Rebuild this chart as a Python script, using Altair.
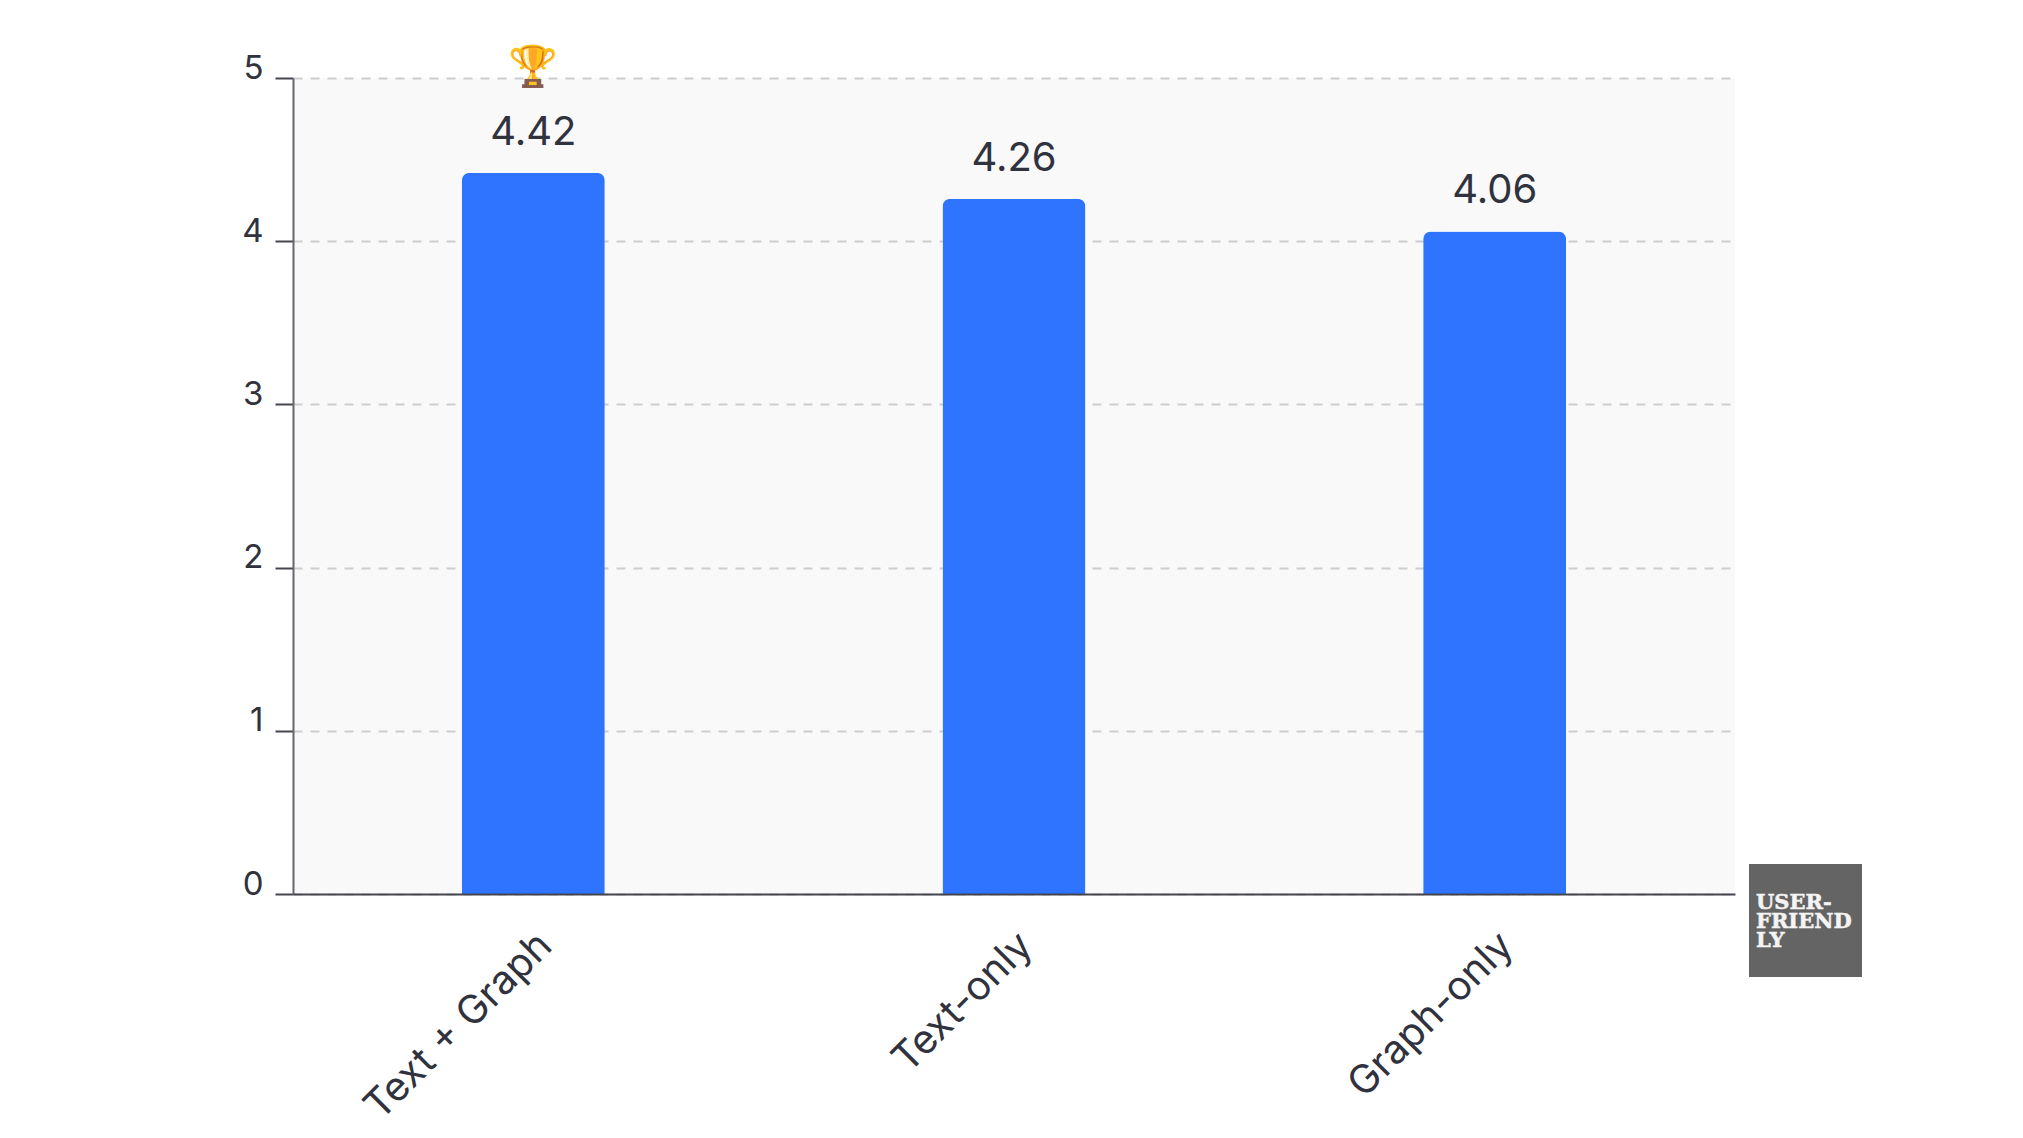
import altair as alt
import pandas as pd

categories = ["Text + Graph", "Text-only", "Graph-only"]
scores = [4.42, 4.26, 4.06]
y_ticks = [0, 1, 2, 3, 4, 5]
winner = ["Text + Graph"]
winner_level = [5]
logo_lines = ["USER-", "FRIEND", "LY"]

FONT = "Inter"
INK = "#30323e"

df = pd.DataFrame({"method": categories, "score": scores, "label": [f"{v:.2f}" for v in scores]})
trophy = pd.DataFrame({"method": winner, "score": winner_level, "icon": ["🏆"]})

x = alt.X("method:N", sort=categories, scale=alt.Scale(paddingInner=0, paddingOuter=0),
          axis=alt.Axis(title=None, labelAngle=-45, labelAlign="right", labelBaseline="top",
                        labelFont=FONT, labelFontSize=40, labelColor=INK, labelPadding=31,
                        labelOffset=-2, labelLimit=500,
                        ticks=False, domainColor="#44454f", domainWidth=2, grid=False, zindex=1,
                        labelOverlap=False))
y = alt.Y("score:Q", scale=alt.Scale(domain=[0, 5], nice=False),
          axis=alt.Axis(title=None, values=y_ticks, format="d", labelFont=FONT, labelFontSize=33,
                        labelColor=INK, labelBaseline="alphabetic", labelPadding=12, tickSize=18,
                        tickColor="#44454f", tickWidth=2, domainColor="#66676f", domainWidth=2,
                        grid=True, gridColor="#cdcdcd", gridWidth=2, gridDash=[9, 8]))

bars = alt.Chart(df).mark_bar(size=143, color="#2e74ff", cornerRadiusTopLeft=8,
                              cornerRadiusTopRight=8).encode(x=x, y=y)
labels = alt.Chart(df).mark_text(font=FONT, fontSize=40, color=INK, baseline="alphabetic",
                                 dy=-28).encode(x=x, y=y, text="label:N")
cup = alt.Chart(trophy).mark_text(fontSize=40, baseline="alphabetic", dy=2).encode(x=x, y=y, text="icon:N")

logo_box = alt.Chart(pd.DataFrame({"k": [0]})).mark_rect(color="#646464", clip=False).encode(
    x=alt.value(1456), x2=alt.value(1569), y=alt.value(786), y2=alt.value(899))

logo_rows = [831, 850, 869]
logo_layers = [
    alt.Chart(pd.DataFrame({"line": [line]})).mark_text(
        font="DejaVu Serif", fontWeight="bold", fontSize=21, color="#f4f4f4", align="left",
        baseline="alphabetic", clip=False, stroke="#f4f4f4", strokeWidth=0.5,
    ).encode(x=alt.value(1463), y=alt.value(row), text="line:N")
    for line, row in zip(logo_lines, logo_rows)
]

chart = alt.layer(bars, labels, cup, logo_box, *logo_layers).properties(
    width=1442, height=816,
    padding={"left": 285, "top": 70, "right": 280, "bottom": 240},
    autosize=alt.AutoSizeParams(type="none"),
    background="#ffffff",
).configure_view(fill="#f9f9f9", stroke=None)

chart.save("out.html", embed_options={"renderer": "svg", "actions": False})
